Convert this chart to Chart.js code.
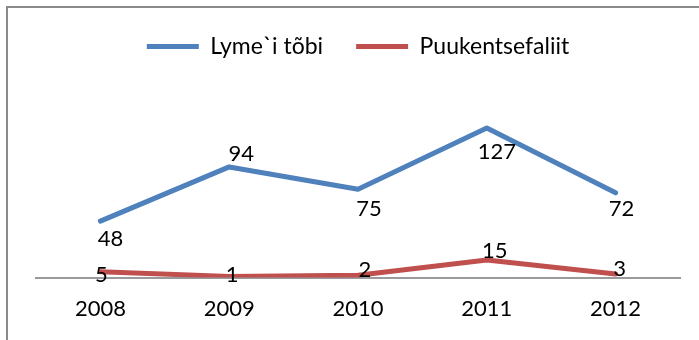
<!DOCTYPE html>
<html>
<head>
<meta charset="utf-8">
<script src="https://cdn.jsdelivr.net/npm/chart.js@4.4.1/dist/chart.umd.min.js"></script>
<style>
  html, body { margin: 0; padding: 0; background: #ffffff; }
  #wrap { width: 699px; height: 340px; position: relative; }
</style>
</head>
<body>
<div id="wrap"><canvas id="c" width="699" height="340"></canvas></div>
<script>
// Tick-borne disease cases per year
const years = ['2008', '2009', '2010', '2011', '2012'];
const lymeCases = [48, 94, 75, 127, 72];
const tbeCases = [5, 1, 2, 15, 3];
const seriesNames = ['Lyme`i tõbi', 'Puukentsefaliit'];

// Where each value label sits relative to its point, in px: [dx, dy]
const lymeLabelOffsets = [[10, 18], [12, -13], [11, 20], [10, 24], [6, 16]];
const tbeLabelOffsets = [[1, 3], [3, -2], [7, -5], [8, -9], [4, -5]];

const FONT = 'Lato';

// Thin grey frame around the whole chart
const chartFrame = {
  id: 'chartFrame',
  beforeDraw(chart) {
    const ctx = chart.ctx;
    ctx.save();
    ctx.strokeStyle = '#8a8a8a';
    ctx.lineWidth = 2;
    ctx.strokeRect(7, 7, 900, 600);
    ctx.restore();
  }
};

// Value labels drawn next to every point
const valueLabels = {
  id: 'valueLabels',
  afterDatasetsDraw(chart) {
    const ctx = chart.ctx;
    ctx.save();
    ctx.font = '22px ' + FONT;
    ctx.fillStyle = '#000000';
    ctx.textAlign = 'center';
    ctx.textBaseline = 'middle';
    chart.data.datasets.forEach((ds, i) => {
      const meta = chart.getDatasetMeta(i);
      meta.data.forEach((pt, j) => {
        const off = ds.labelOffsets[j];
        ctx.fillText(String(ds.data[j]), pt.x + off[0], pt.y + off[1]);
      });
    });
    ctx.restore();
  }
};

new Chart(document.getElementById('c'), {
  type: 'line',
  data: {
    labels: years,
    datasets: [
      {
        label: seriesNames[0],
        data: lymeCases,
        labelOffsets: lymeLabelOffsets,
        borderColor: '#4f81bd',
        backgroundColor: '#4f81bd',
        borderWidth: 5,
        borderCapStyle: 'round',
        borderJoinStyle: 'round',
        pointRadius: 0,
        tension: 0
      },
      {
        label: seriesNames[1],
        data: tbeCases,
        labelOffsets: tbeLabelOffsets,
        borderColor: '#c0504d',
        backgroundColor: '#c0504d',
        borderWidth: 5,
        borderCapStyle: 'round',
        borderJoinStyle: 'round',
        pointRadius: 0,
        tension: 0
      }
    ]
  },
  options: {
    responsive: false,
    animation: false,
    layout: { padding: { left: 36, right: 19, top: 2, bottom: 0 } },
    plugins: {
      legend: {
        position: 'top',
        labels: {
          usePointStyle: true,
          pointStyle: 'line',
          pointStyleWidth: 52,
          color: '#000000',
          font: { family: FONT, size: 23 },
          padding: 33
        }
      },
      tooltip: { enabled: false }
    },
    scales: {
      x: {
        offset: true,
        grid: { display: false, drawTicks: false },
        border: { display: true, color: '#9a9a9a', width: 2 },
        ticks: { padding: 18, color: '#000000', font: { family: FONT, size: 22 } }
      },
      y: {
        display: false,
        min: 0,
        max: 178
      }
    }
  },
  plugins: [chartFrame, valueLabels]
});
</script>
</body>
</html>
